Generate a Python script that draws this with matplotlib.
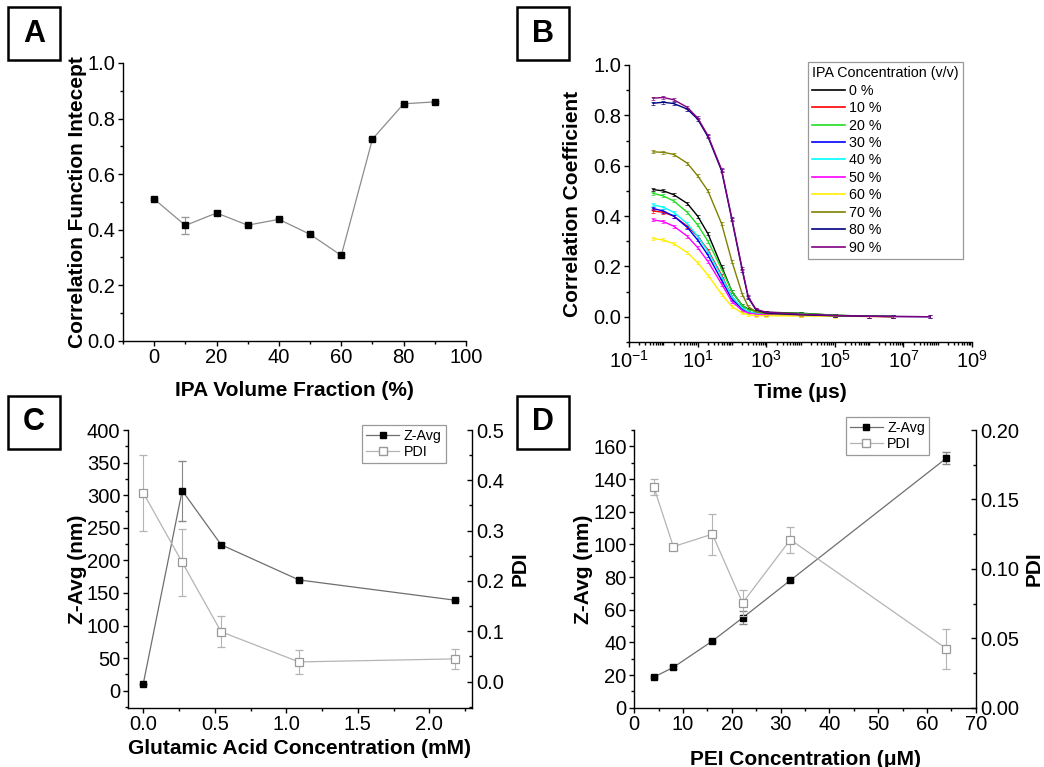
import numpy as np
import matplotlib
matplotlib.use('Agg')
import matplotlib.pyplot as plt
from matplotlib.patches import Rectangle
from matplotlib.lines import Line2D
from matplotlib.ticker import MultipleLocator, FixedLocator, LogLocator, LogFormatterMathtext, NullFormatter

plt.rcParams['font.family'] = ['Liberation Sans', 'DejaVu Sans']
plt.rcParams['mathtext.fontset'] = 'custom'
plt.rcParams['mathtext.rm'] = 'Liberation Sans'
plt.rcParams['mathtext.it'] = 'Liberation Sans:italic'
plt.rcParams['mathtext.bf'] = 'Liberation Sans:bold'

##################################
# A : intercept vs IPA fraction
ipa_frac = [0, 10, 20, 30, 40, 50, 60, 70, 80, 90]
intercept = [0.510, 0.415, 0.460, 0.416, 0.437, 0.383, 0.307, 0.726, 0.853, 0.860]
intercept_err = [0.004, 0.030, 0.006, 0.004, 0.004, 0.004, 0.004, 0.004, 0.004, 0.004]

# B : correlation functions
nan = np.nan
time_us = [0.5, 1, 2, 5, 10, 20, 50, 100, 200, 300, 500, 1e3, 1e4, 1e5, 1e6, 5e6, 6e7]
ipa_labels = ['0 %', '10 %', '20 %', '30 %', '40 %', '50 %', '60 %', '70 %', '80 %', '90 %']
g_0 = [0.505, 0.500, 0.485, 0.450, 0.400, 0.330, 0.200, 0.100, 0.045, 0.030, 0.022, 0.018, 0.014, 0.006, 0.002, 0.001, nan]
g_10 = [0.420, 0.415, 0.400, 0.360, 0.320, 0.265, 0.165, 0.080, 0.030, 0.018, 0.012, 0.010, 0.008, 0.004, 0.002, 0.001, nan]
g_20 = [0.490, 0.480, 0.460, 0.415, 0.365, 0.300, 0.190, 0.100, 0.045, 0.028, 0.020, 0.016, 0.013, 0.006, 0.002, 0.001, nan]
g_30 = [0.430, 0.420, 0.400, 0.355, 0.305, 0.245, 0.145, 0.070, 0.030, 0.018, 0.012, 0.010, 0.008, 0.004, 0.002, 0.001, nan]
g_40 = [0.445, 0.435, 0.415, 0.370, 0.320, 0.260, 0.160, 0.080, 0.035, 0.020, 0.013, 0.010, 0.008, 0.004, 0.002, 0.001, nan]
g_50 = [0.385, 0.378, 0.360, 0.320, 0.275, 0.220, 0.130, 0.060, 0.025, 0.015, 0.010, 0.008, 0.006, 0.003, 0.001, 0.000, nan]
g_60 = [0.310, 0.305, 0.290, 0.255, 0.215, 0.165, 0.090, 0.040, 0.015, 0.008, 0.005, 0.004, 0.003, 0.002, 0.001, 0.000, nan]
g_70 = [0.655, 0.653, 0.645, 0.610, 0.560, 0.500, 0.370, 0.220, 0.090, 0.040, 0.020, 0.012, 0.008, 0.004, 0.002, 0.001, nan]
g_80 = [0.848, 0.852, 0.847, 0.825, 0.785, 0.715, 0.580, 0.385, 0.185, 0.075, 0.028, 0.015, 0.008, 0.004, 0.002, 0.001, 0.000]
g_90 = [0.868, 0.871, 0.862, 0.832, 0.790, 0.720, 0.585, 0.390, 0.190, 0.080, 0.030, 0.018, 0.010, 0.005, 0.002, 0.001, 0.000]
g_err = 0.006

# C : glutamic acid
glu_conc = [0.0, 0.272, 0.544, 1.088, 2.176]
glu_zavg = [11, 307, 224, 170, 139]
glu_zavg_err = [0, 46, 2, 2, 2]
glu_pdi = [0.375, 0.237, 0.099, 0.039, 0.045]
glu_pdi_err = [0.075, 0.066, 0.031, 0.024, 0.020]

# D : PEI
pei_conc = [4, 8, 16, 22.2, 32, 64]
pei_zavg = [18.7, 24.7, 40.8, 55.0, 78.0, 152.8]
pei_zavg_err = [0.8, 0.8, 0.8, 4.0, 0.8, 3.5]
pei_pdi = [0.159, 0.116, 0.125, 0.0755, 0.121, 0.0425]
pei_pdi_err = [0.006, 0.002, 0.0147, 0.0095, 0.0095, 0.0145]
##################################

fig = plt.figure(figsize=(10.44, 7.67), dpi=100)
W, H = 1044.0, 767.0

def add_ax(left, top, right, bottom):
    return fig.add_axes([left / W, 1 - bottom / H, (right - left) / W, (bottom - top) / H])

tick_fs = 14.5
label_fs = 15

def style(ax, right=False):
    for s in ['top', 'right', 'left', 'bottom']:
        ax.spines[s].set_linewidth(1.0)
    ax.spines['top'].set_visible(False)
    if not right:
        ax.spines['right'].set_visible(False)
        ax.tick_params(which='major', direction='out', length=3.5, width=1, pad=2, labelsize=tick_fs)
        ax.tick_params(which='minor', direction='out', length=2, width=1)
    else:
        # right hand axis of Origin twin plots: ticks point inwards
        ax.tick_params(which='major', direction='in', length=3.5, width=1, pad=3, labelsize=tick_fs)
        ax.tick_params(which='minor', direction='in', length=2, width=1)

# ---------- A
axA = add_ax(123, 63, 466, 340.7)
style(axA)
axA.errorbar(ipa_frac, intercept, yerr=intercept_err, color='#8c8c8c', lw=0.9,
             marker='s', ms=5, mfc='k', mec='k', ecolor='#999999', elinewidth=0.8, capsize=3)
axA.set_xlim(-10, 100)
axA.set_ylim(0, 1.0)
axA.xaxis.set_major_locator(MultipleLocator(20))
axA.xaxis.set_minor_locator(MultipleLocator(10))
axA.yaxis.set_major_locator(MultipleLocator(0.2))
axA.yaxis.set_minor_locator(MultipleLocator(0.1))
axA.yaxis.set_major_formatter(plt.FormatStrFormatter('%.1f'))
axA.set_xlabel('IPA Volume Fraction (%)', fontsize=label_fs, fontweight='bold', labelpad=10)
axA.set_ylabel('Correlation Function Intecept', fontsize=label_fs, fontweight='bold', labelpad=0)

# ---------- B
axB = add_ax(629, 65, 972, 341.9)
style(axB)
curves = [g_0, g_10, g_20, g_30, g_40, g_50, g_60, g_70, g_80, g_90]
colors = ['#000000', '#ff0000', '#22dd22', '#0000ff', '#00ffff', '#ff00ff',
          '#ffee00', '#808000', '#000080', '#800080']
for g, c, lab in zip(curves, colors, ipa_labels):
    axB.errorbar(time_us, g, yerr=g_err, color=c, lw=1.0, ecolor=c, elinewidth=0.4,
                 capsize=1.5, capthick=0.5, label=lab)
axB.set_xscale('log')
axB.set_xlim(1e-1, 1e9)
axB.set_ylim(-0.1, 1.0)
axB.xaxis.set_major_locator(FixedLocator([1e-1, 1e1, 1e3, 1e5, 1e7, 1e9]))
axB.xaxis.set_major_formatter(LogFormatterMathtext())
axB.xaxis.set_minor_locator(LogLocator(base=10, subs=np.arange(1, 10), numticks=100))
axB.xaxis.set_minor_formatter(NullFormatter())
axB.yaxis.set_major_locator(MultipleLocator(0.2))
axB.yaxis.set_minor_locator(MultipleLocator(0.1))
axB.yaxis.set_major_formatter(plt.FormatStrFormatter('%.1f'))
axB.set_ylim(-0.1, 1.0)
axB.set_xlabel('Time (\u03bcs)', fontsize=label_fs, fontweight='bold', labelpad=8)
axB.set_ylabel('Correlation Coefficient', fontsize=label_fs, fontweight='bold', labelpad=8)
handles = [Line2D([0], [0], color=c, lw=1.2) for c in colors]
legB = axB.legend(handles, ipa_labels, title='IPA Concentration (v/v)', loc='upper right',
                  bbox_to_anchor=(0.973, 1.011), borderaxespad=0, fontsize=10.3,
                  title_fontsize=10.3, alignment='left', fancybox=False, edgecolor='#999999',
                  framealpha=1, handlelength=2.3, handletextpad=0.3, labelspacing=0.24,
                  borderpad=0.3)
legB.get_frame().set_linewidth(0.9)

# ---------- C
axC = add_ax(128, 430, 472, 707.7)
axC2 = axC.twinx()
style(axC)
style(axC2, right=True)
axC.spines['right'].set_visible(False)
axC2.spines['left'].set_visible(False)
axC2.spines['bottom'].set_visible(False)
axC.errorbar(glu_conc, glu_zavg, yerr=glu_zavg_err, color='#6e6e6e', lw=0.9,
             marker='s', ms=5, mfc='k', mec='k', ecolor='#888888', elinewidth=0.8, capsize=3, zorder=3)
axC2.errorbar(glu_conc, glu_pdi, yerr=glu_pdi_err, color='#b4b4b4', lw=0.9,
              marker='s', ms=6, mfc='white', mec='#999999', mew=0.9, ecolor='#b4b4b4',
              elinewidth=0.8, capsize=3)
axC.set_xlim(-0.107, 2.298)
axC.set_ylim(-26, 400)
axC2.set_ylim(-0.052, 0.5)
axC.xaxis.set_major_locator(MultipleLocator(0.5))
axC.xaxis.set_minor_locator(MultipleLocator(0.25))
axC.xaxis.set_major_formatter(plt.FormatStrFormatter('%.1f'))
axC.yaxis.set_major_locator(MultipleLocator(50))
axC.yaxis.set_minor_locator(MultipleLocator(25))
axC2.yaxis.set_major_locator(MultipleLocator(0.1))
axC2.yaxis.set_minor_locator(MultipleLocator(0.05))
axC2.yaxis.set_major_formatter(plt.FormatStrFormatter('%.1f'))
axC.set_xlabel('Glutamic Acid Concentration (mM)', fontsize=label_fs, fontweight='bold', labelpad=3)
axC.set_ylabel('Z-Avg (nm)', fontsize=label_fs, fontweight='bold', labelpad=0)
axC2.set_ylabel('PDI', fontsize=label_fs, fontweight='bold', labelpad=5)
hC = [Line2D([0], [0], color='#6e6e6e', lw=0.9, marker='s', ms=5, mfc='k', mec='k'),
      Line2D([0], [0], color='#b4b4b4', lw=0.9, marker='s', ms=6, mfc='white', mec='#999999')]
legC = axC2.legend(hC, ['Z-Avg', 'PDI'], loc='upper right', bbox_to_anchor=(0.924, 1.018),
                   borderaxespad=0, fontsize=10.3, fancybox=False, edgecolor='#999999',
                   framealpha=1, handlelength=2.3, handletextpad=0.3, labelspacing=0.1,
                   borderpad=0.3, numpoints=1)
legC.get_frame().set_linewidth(0.9)

# ---------- D
axD = add_ax(634.3, 430, 975.7, 707.7)
axD2 = axD.twinx()
style(axD)
style(axD2, right=True)
axD.spines['right'].set_visible(False)
axD2.spines['left'].set_visible(False)
axD2.spines['bottom'].set_visible(False)
axD.errorbar(pei_conc, pei_zavg, yerr=pei_zavg_err, color='#6e6e6e', lw=0.9,
             marker='s', ms=5, mfc='k', mec='k', ecolor='#888888', elinewidth=0.8, capsize=3, zorder=3)
axD2.errorbar(pei_conc, pei_pdi, yerr=pei_pdi_err, color='#b4b4b4', lw=0.9,
              marker='s', ms=6, mfc='white', mec='#999999', mew=0.9, ecolor='#b4b4b4',
              elinewidth=0.8, capsize=3)
axD.set_xlim(0, 70)
axD.set_ylim(0, 170)
axD2.set_ylim(0, 0.20)
axD.xaxis.set_major_locator(MultipleLocator(10))
axD.xaxis.set_minor_locator(MultipleLocator(5))
axD.yaxis.set_major_locator(MultipleLocator(20))
axD.yaxis.set_minor_locator(MultipleLocator(10))
axD2.yaxis.set_major_locator(MultipleLocator(0.05))
axD2.yaxis.set_minor_locator(MultipleLocator(0.025))
axD2.yaxis.set_major_formatter(plt.FormatStrFormatter('%.2f'))
axD.set_xlabel('PEI Concentration (\u03bcM)', fontsize=label_fs, fontweight='bold', labelpad=11)
axD.set_ylabel('Z-Avg (nm)', fontsize=label_fs, fontweight='bold', labelpad=0)
axD2.set_ylabel('PDI', fontsize=label_fs, fontweight='bold', labelpad=4)
hD = [Line2D([0], [0], color='#6e6e6e', lw=0.9, marker='s', ms=5, mfc='k', mec='k'),
      Line2D([0], [0], color='#b4b4b4', lw=0.9, marker='s', ms=6, mfc='white', mec='#999999')]
legD = axD2.legend(hD, ['Z-Avg', 'PDI'], loc='upper right', bbox_to_anchor=(0.864, 1.047),
                   borderaxespad=0, fontsize=10.3, fancybox=False, edgecolor='#999999',
                   framealpha=1, handlelength=2.3, handletextpad=0.3, labelspacing=0.1,
                   borderpad=0.3, numpoints=1)
legD.get_frame().set_linewidth(0.9)

# ---------- panel letters
for letter, x0, y0 in [('A', 8, 7), ('B', 517, 7), ('C', 8, 396), ('D', 517, 396)]:
    fig.add_artist(Rectangle((x0 / W, 1 - (y0 + 53) / H), 52 / W, 53 / H,
                             transform=fig.transFigure, fill=False, lw=1.8, ec='k'))
    fig.text((x0 + 26) / W, 1 - (y0 + 26.5) / H, letter, fontsize=22, fontweight='bold',
             ha='center', va='center')

fig.savefig('out.png', dpi=100)
